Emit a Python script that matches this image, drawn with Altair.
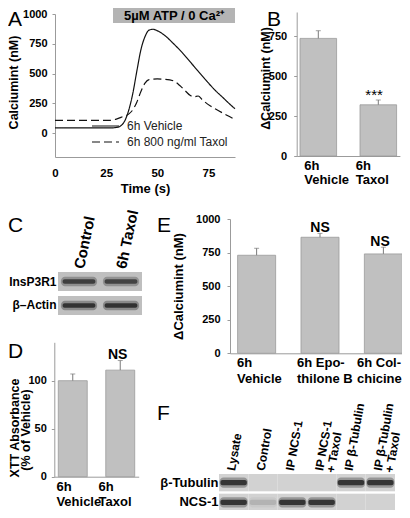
import altair as alt
import pandas as pd

# ---------------- data ----------------
# Panel A: Ca2+ traces (time in s, calcium in nM)
time_vehicle = [0, 28, 30, 32, 34, 36, 38, 40, 42, 44, 46, 48, 50, 54, 58, 62, 66, 70, 74, 78, 82, 86, 88]
ca_vehicle = [45, 45, 48, 60, 100, 190, 330, 520, 700, 810, 865, 872, 860, 815, 750, 680, 600, 520, 440, 365, 300, 235, 205]
time_taxol = [0, 27, 30, 33, 36, 38, 40, 42, 44, 46, 50, 54, 58, 61, 64, 66, 68, 70, 72, 76, 80, 84, 88]
ca_taxol = [108, 108, 118, 138, 160, 195, 260, 350, 420, 450, 455, 452, 438, 400, 350, 318, 305, 312, 280, 228, 188, 150, 115]
series_names = ["6h Vehicle", "6h 800 ng/ml Taxol"]
a_x_ticks = [0, 25, 50, 75]
a_y_ticks = [0, 250, 500, 750, 1000]
a_box_text = "5µM ATP / 0 Ca²⁺"

# Panel B
b_groups = ["6h\nVehicle", "6h\nTaxol"]
b_mean = [735, 320]
b_err = [48, 30]
b_sig = ["", "***"]
b_y_ticks = [0, 250, 500, 750]

# Panel C (western blot band signal, 0..1)
c_lanes = ["Control", "6h Taxol"]
c_rows = ["InsP3R1", "β–Actin"]
c_insp3r1 = [0.85, 0.80]
c_actin = [0.95, 0.95]

# Panel D
d_groups = ["6h\nVehicle", "6h\nTaxol"]
d_mean = [100, 111]
d_err = [7, 10]
d_sig = ["", "NS"]
d_y_ticks = [0, 50, 100]
d_title = ["XTT Absorbance", "(% of Vehicle)"]

# Panel E
e_groups = ["6h\nVehicle", "6h Epo-\nthilone B", "6h Col-\nchicine"]
e_mean = [730, 864, 740]
e_err = [52, 29, 50]
e_sig = ["", "NS", "NS"]
e_y_ticks = [0, 250, 500, 750, 1000]

# Panel F (co-IP blot band signal, 0..1)
f_lanes = ["Lysate", "Control", "IP NCS-1", "IP NCS-1\n+ Taxol", "IP β-Tubulin", "IP β-Tubulin\n+ Taxol"]
f_rows = ["β-Tubulin", "NCS-1"]
f_tubulin = [0.95, 0.0, 0.0, 0.0, 0.95, 0.95]
f_ncs1 = [0.95, 0.15, 0.95, 0.95, 0.0, 0.0]

# ---------------- layout helpers ----------------
W, H = 394, 502
FONT = "Liberation Sans"
AXIS_GRAY = "#9b9b9b"
BAR_FILL = "#c0c0c0"
BAR_EDGE = "#9b9b9b"
ERR = "#7a7a7a"


def cx(v):
    return v - 8


def cy(v):
    return v - 8


def one():
    return pd.DataFrame({"k": [0]})


def qaxis(**kw):
    d = dict(grid=False, domainColor=AXIS_GRAY, domainWidth=1, tickColor=AXIS_GRAY, tickSize=3,
             tickWidth=1, labelFont=FONT, labelFontSize=11, labelFontWeight="bold", labelColor="#000",
             titleFont=FONT, titleFontSize=12.5, titleFontWeight="bold", titleColor="#000",
             labelOverlap=False, labelFlush=False, labelLimit=0, format="d")
    d.update(kw)
    return alt.Axis(**d)


def label(text, x, y, size=21, weight="normal", align="left", baseline="alphabetic", color="#000", angle=0):
    return alt.Chart(pd.DataFrame({"t": [text]})).mark_text(
        font=FONT, fontSize=size, fontWeight=weight, align=align, baseline=baseline, color=color,
        angle=angle
    ).encode(x=alt.value(x), y=alt.value(y), text="t:N")


layers = []

# ---------------- Panel A ----------------
dfA = pd.DataFrame({
    "t": time_vehicle + time_taxol,
    "ca": ca_vehicle + ca_taxol,
    "series": [series_names[0]] * len(time_vehicle) + [series_names[1]] * len(time_taxol),
})
xA = alt.Scale(domain=[0, 88], range=[cx(55), cx(235)], nice=False, zero=False)
yA = alt.Scale(domain=[-200, 1000], range=[cy(157), cy(14)], nice=False, zero=False)
lineA = alt.Chart(dfA).mark_line(color="#111", strokeWidth=1.2, interpolate="monotone").encode(
    x=alt.X("t:Q", scale=xA, axis=qaxis(orient="bottom", offset=cy(157) - H, values=a_x_ticks,
                                        ticks=False, labelPadding=10, labelFontSize=11.5,
                                        title="Time (s)", titleFontSize=13, titleY=35.5,
                                        titleBaseline="alphabetic")),
    y=alt.Y("ca:Q", scale=yA, axis=qaxis(orient="left", offset=-cx(55), values=a_y_ticks,
                                         labelPadding=5, title="Calciumint (nM)", titleAngle=270,
                                         titleX=13.5 - 55, titleY=cy(82), titleAlign="center",
                                         titleBaseline="middle")),
    strokeDash=alt.StrokeDash("series:N", scale=alt.Scale(domain=series_names, range=[[1, 0], [8, 4]]),
                              legend=None),
)
layers.append(lineA)

# legend of panel A
dashes = [[1, 0], [8, 4]]
leg_y = [126, 142]
for i, name in enumerate(series_names):
    layers.append(alt.Chart(pd.DataFrame({"s": [name]})).mark_rule(
        color="#111", strokeWidth=1.2, strokeDash=dashes[i]).encode(
        x=alt.value(cx(92)), x2=alt.value(cx(119)), y=alt.value(cy(leg_y[i]))))
    layers.append(label(name, cx(127), cy(leg_y[i]), size=12, baseline="middle", color="#222"))

# gray condition box
layers.append(alt.Chart(one()).mark_rect(fill="#b4b4b4").encode(
    x=alt.value(cx(113)), x2=alt.value(cx(235)), y=alt.value(0), y2=alt.value(cy(23))))
layers.append(label(a_box_text, cx(174), cy(16), size=13, weight="bold", align="center", baseline="middle"))


# ---------------- bar panels ----------------
def bar_panel(groups, means, errs, sigs, xr, pin, pout, ydom, yr, yticks, yaxis_kw,
              label_offset, line_h, sig_size, sig_weight, sig_dy):
    df = pd.DataFrame({"g": groups, "m": means, "e": errs, "s": sigs})
    xs = alt.Scale(domain=groups, range=xr, paddingInner=pin, paddingOuter=pout)
    ys = alt.Scale(domain=ydom, range=yr, nice=False, zero=False)
    base = alt.Chart(df).transform_calculate(u="datum.m + datum.e")
    xaxis = qaxis(orient="bottom", offset=yr[0] - H, ticks=False, labels=False, title=None)
    yaxis = qaxis(orient="left", offset=-xr[0], values=yticks, **yaxis_kw)
    xe = alt.X("g:N", scale=xs, axis=None, sort=None)
    bars = base.mark_bar(fill=BAR_FILL, stroke=BAR_EDGE, strokeWidth=0.8).encode(
        x=alt.X("g:N", scale=xs, axis=xaxis, sort=None),
        y=alt.Y("m:Q", scale=ys, axis=yaxis))
    rule = base.mark_rule(color=ERR, strokeWidth=1).encode(
        x=xe, y=alt.Y("m:Q", scale=ys, axis=None), y2="u:Q")
    cap = base.mark_tick(color=ERR, size=5, thickness=1).encode(
        x=xe, y=alt.Y("u:Q", scale=ys, axis=None))
    sig = base.mark_text(font=FONT, fontSize=sig_size, fontWeight=sig_weight, baseline="alphabetic",
                         dy=sig_dy, color="#000").encode(
        x=xe, y=alt.Y("u:Q", scale=ys, axis=None), text="s:N")
    cats = base.mark_text(font=FONT, fontSize=13, fontWeight="bold", align="left", baseline="top",
                          dx=label_offset, lineBreak="\n", lineHeight=line_h, color="#000").encode(
        x=xe, y=alt.value(yr[0] + 4), text="g:N")
    return [bars, rule, cap, sig, cats]


# Panel B
layers += bar_panel(b_groups, b_mean, b_err, b_sig,
                    [cx(296.7), cx(399.9)], 0.39, 0.055, [0, 900], [cy(156), cy(12)], b_y_ticks,
                    dict(labelPadding=7, title="ΔCalciumint (nM)", titleAngle=270, titleX=265 - 296.7,
                         titleY=cy(78), titleAlign="center", titleBaseline="middle"),
                    -18.3, 14, 15, "normal", 0)

# Panel D
layers += bar_panel(d_groups, d_mean, d_err, d_sig,
                    [cx(54.3), cx(138.7)], 0.39, 0.084, [0, 140], [cy(476.7), cy(342.3)], d_y_ticks,
                    dict(labelPadding=5, title=None),
                    -19, 15, 14, "bold", -1.5)
layers.append(label(d_title[0], cx(14.5), cy(428), size=12.5, weight="bold", align="center",
                    baseline="middle", angle=270))
layers.append(label(d_title[1], cx(26), cy(430), size=12.5, weight="bold", align="center",
                    baseline="middle", angle=270))

# Panel E
layers += bar_panel(e_groups, e_mean, e_err, e_sig,
                    [cx(230), cx(410)], 0.4, 0.12, [0, 1000], [cy(353.3), cy(219)], e_y_ticks,
                    dict(labelPadding=7, title="ΔCalciumint (nM)", titleFontSize=13, titleAngle=270,
                         titleX=178 - 230, titleY=cy(286), titleAlign="center", titleBaseline="middle"),
                    -23, 15.5, 14, "bold", -1.5)


# ---------------- blots ----------------
def blot(lanes, rows, signals, xr, yr, row_pad, bg, lane_y, lane_angle, lane_font, lane_lh,
         lane_off, row_font, row_pad_px, core_w, core_h, halo_w, halo_h):
    recs = []
    for r, vals in zip(rows, signals):
        for ln, v in zip(lanes, vals):
            recs.append({"lane": ln, "row": r, "sig": v})
    df = pd.DataFrame(recs)
    xs = alt.Scale(domain=lanes, range=xr, paddingInner=0, paddingOuter=0)
    ys = alt.Scale(domain=rows, range=yr, paddingInner=row_pad, paddingOuter=0)
    xaxis = alt.Axis(orient="top", offset=-cy(lane_y), domain=False, ticks=False, grid=False,
                     labelAngle=lane_angle, labelAlign="left", labelBaseline="middle", labelPadding=0,
                     labelOffset=lane_off,
                     labelFont=FONT, labelFontSize=lane_font, labelFontWeight="bold", labelColor="#000",
                     labelLineHeight=lane_lh, labelExpr="split(datum.label, '\\n')",
                     labelOverlap=False, labelLimit=0, labelFlush=False, title=None)
    yaxis = alt.Axis(orient="left", offset=-xr[0], domain=False, ticks=False, grid=False,
                     labelAlign="right", labelBaseline="middle", labelPadding=row_pad_px,
                     labelFont=FONT, labelFontSize=row_font, labelFontWeight="bold", labelColor="#000",
                     labelLimit=0, labelOverlap=False, title=None)
    out = [alt.Chart(df).mark_rect(fill=bg).encode(
        x=alt.X("lane:N", scale=xs, axis=xaxis, sort=None),
        y=alt.Y("row:N", scale=ys, axis=yaxis, sort=None))]
    for w, h, top, rad in [(halo_w, halo_h, 0.35, 4), (core_w, core_h, 0.85, 2)]:
        out.append(alt.Chart(df).mark_rect(
            fill="#1e1e1e", cornerRadius=rad,
            width=alt.RelativeBandSize(band=w), height=alt.RelativeBandSize(band=h)).encode(
            x=alt.X("lane:N", scale=xs, axis=None, sort=None),
            y=alt.Y("row:N", scale=ys, axis=None, sort=None),
            opacity=alt.Opacity("sig:Q", scale=alt.Scale(domain=[0, 1], range=[0, top]), legend=None)))
    return out


layers += blot(c_lanes, c_rows, [c_insp3r1, c_actin], [cx(58), cx(142)], [cy(272), cy(315)], 0.2,
               "#bfbfbf", 268, 282, 15, 16, 0, 12, 2, 0.78, 0.24, 0.86, 0.5)
layers += blot(f_lanes, f_rows, [f_tubulin, f_ncs1], [cx(219), cx(395)], [cy(474), cy(511)], 0.12,
               "#d2d2d2", 470, 280, 12, 11.5, -2.5, 13, 1, 0.9, 0.3, 0.96, 0.6)

# ---------------- panel letters ----------------
for txt, x, y in [("A", 0, cy(26)), ("B", cx(267), cy(26)), ("C", 0, cy(231.7)),
                  ("E", cx(157), cy(231.7)), ("D", 0, cy(358.3)), ("F", cx(157), cy(420))]:
    layers.append(label(txt, x, y))

chart = alt.layer(*layers).resolve_scale(
    x="independent", y="independent", strokeDash="independent", opacity="independent"
).properties(
    width=W, height=H, autosize=alt.AutoSizeParams(type="none"), padding=0
).configure_view(stroke=None)

chart.save("out.html", embed_options={"renderer": "svg", "actions": False})
